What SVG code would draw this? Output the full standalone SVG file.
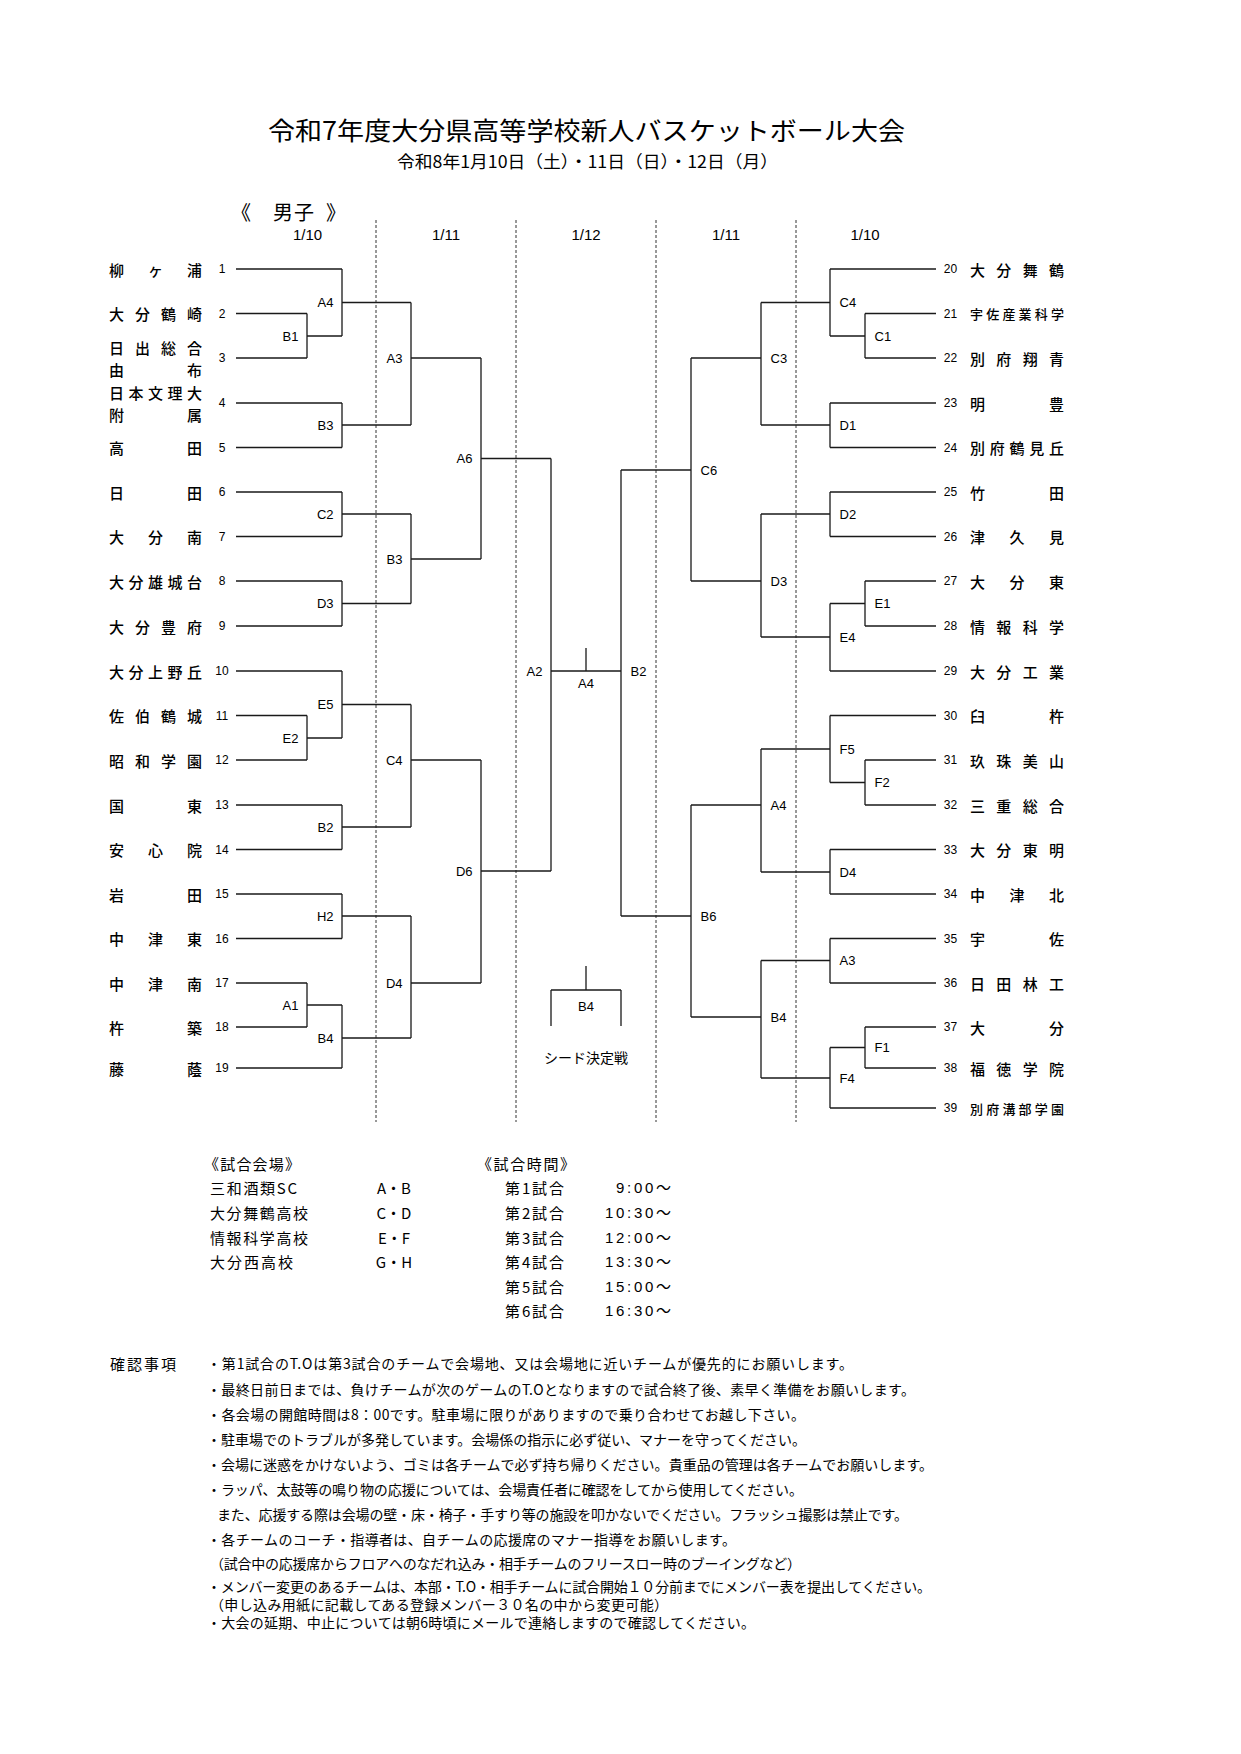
<svg xmlns="http://www.w3.org/2000/svg" width="1241" height="1754" viewBox="0 0 1241 1754">
<style>
.bg{fill:#fff}
.ln{fill:none;stroke:#1a1a1a;stroke-width:1.3}
.dash{fill:none;stroke:#333;stroke-width:1;stroke-dasharray:3 2}
.jp{font-family:'Noto Sans CJK JP','Noto Sans CJK SC',sans-serif;fill:#000;dominant-baseline:central}
.nm{font-size:15px;font-weight:500}
.nm6{font-size:13px;font-weight:500}
.no{font-family:'Liberation Sans',Arial,sans-serif;font-size:12px;text-anchor:middle;dominant-baseline:central;fill:#000}
.lb{font-family:'Liberation Sans',Arial,sans-serif;font-size:13px;dominant-baseline:central;fill:#000}
.le{text-anchor:end}
.mid{text-anchor:middle}
.hd{font-family:'Liberation Sans',Arial,sans-serif;font-size:15px;text-anchor:middle;dominant-baseline:central;fill:#000}
.vn{font-size:15px}
.nt{font-size:14px}
.tm{font-family:'Liberation Sans','Noto Sans CJK JP',sans-serif;font-size:15px;dominant-baseline:central;fill:#000}
</style>
<rect class="bg" x="0" y="0" width="1241" height="1754"/>

<g id="title">
<text class="jp" x="268" y="129" font-size="25" textLength="637" lengthAdjust="spacingAndGlyphs">令和7年度大分県高等学校新人バスケットボール大会</text>
<text class="jp" x="397" y="160" font-size="17" textLength="381" lengthAdjust="spacingAndGlyphs">令和8年1月10日（土）・11日（日）・12日（月）</text>
<text class="jp" x="231 273 294 326" y="211" font-size="20">《男子》</text>
</g>

<g id="headers">
<text class="hd" x="307.5" y="234">1/10</text>
<text class="hd" x="446" y="234">1/11</text>
<text class="hd" x="586" y="234">1/12</text>
<text class="hd" x="726" y="234">1/11</text>
<text class="hd" x="865" y="234">1/10</text>
</g>

<g id="day-dividers">
<path class="dash" d="M376 220V1122M516 220V1122M656 220V1122M796 220V1122"/>
</g>

<g id="connectors">
<path class="ln" d="M236 269H342M236 313.5H307M236 358H307M236 403H342M236 447.5H342M236 492H342M236 536.5H342M236 581H342M236 626H342M236 671H342M236 715.5H307M236 760H307M236 805H342M236 849.5H342M236 894H342M236 938.5H342M236 983H307M236 1027H307M236 1068H342"/>
<path class="ln" d="M307 313.5V358M307 336H342M342 269V336M342 302.5H411M342 403V447.5M342 425H411M411 302.5V425M411 358H481M342 492V536.5M342 514H411M342 581V626M342 603.5H411M411 514V603.5M411 559H481M481 358V559M481 458.5H551"/>
<path class="ln" d="M307 715.5V760M307 738H342M342 671V738M342 704.5H411M342 805V849.5M342 827H411M411 704.5V827M411 760H481M342 894V938.5M342 916H411M307 983V1027M307 1005H342M342 1005V1068M342 1038H411M411 916V1038M411 983H481M481 760V983M481 871H551"/>
<path class="ln" d="M551 458.5V871M551 671H621M586 648V671M621 470V916"/>
<path class="ln" d="M830 269H936M865 313.5H936M865 358H936M830 403H936M830 447.5H936M830 492H936M830 536.5H936M865 581H936M865 626H936M830 671H936M830 715.5H936M865 760H936M865 805H936M830 849.5H936M830 894H936M830 938.5H936M830 983H936M865 1027H936M865 1068H936M830 1108H936"/>
<path class="ln" d="M621 470H691M691 358V581M691 358H761M761 302.5V425M761 302.5H830M830 269V336M830 336H865M865 313.5V358M761 425H830M830 403V447.5M691 581H761M761 514V637M761 514H830M830 492V536.5M761 637H830M830 603.5V671M830 603.5H865M865 581V626"/>
<path class="ln" d="M621 916H691M691 805V1017M691 805H761M761 749V872M761 749H830M830 715.5V782.5M830 782.5H865M865 760V805M761 872H830M830 849.5V894M691 1017H761M761 960.5V1078M761 960.5H830M830 938.5V983M761 1078H830M830 1047.5V1108M830 1047.5H865M865 1027V1068"/>
<path class="ln" d="M586 966V990M551 990H621M551 990V1026M621 990V1026"/>
</g>

<g id="team-1"><text class="no" x="222" y="269">1</text><text class="jp nm" x="109 148 187" y="269">柳ヶ浦</text></g>
<g id="team-2"><text class="no" x="222" y="313.5">2</text><text class="jp nm" x="109 135 161 187" y="313.5">大分鶴崎</text></g>
<g id="team-3"><text class="no" x="222" y="358">3</text><text class="jp nm" x="109 135 161 187" y="347">日出総合</text><text class="jp nm" x="109 187" y="369">由布</text></g>
<g id="team-4"><text class="no" x="222" y="403">4</text><text class="jp nm" x="109 128.5 148 167.5 187" y="392">日本文理大</text><text class="jp nm" x="109 187" y="414">附属</text></g>
<g id="team-5"><text class="no" x="222" y="447.5">5</text><text class="jp nm" x="109 187" y="447.5">高田</text></g>
<g id="team-6"><text class="no" x="222" y="492">6</text><text class="jp nm" x="109 187" y="492">日田</text></g>
<g id="team-7"><text class="no" x="222" y="536.5">7</text><text class="jp nm" x="109 148 187" y="536.5">大分南</text></g>
<g id="team-8"><text class="no" x="222" y="581">8</text><text class="jp nm" x="109 128.5 148 167.5 187" y="581">大分雄城台</text></g>
<g id="team-9"><text class="no" x="222" y="626">9</text><text class="jp nm" x="109 135 161 187" y="626">大分豊府</text></g>
<g id="team-10"><text class="no" x="222" y="671">10</text><text class="jp nm" x="109 128.5 148 167.5 187" y="671">大分上野丘</text></g>
<g id="team-11"><text class="no" x="222" y="715.5">11</text><text class="jp nm" x="109 135 161 187" y="715.5">佐伯鶴城</text></g>
<g id="team-12"><text class="no" x="222" y="760">12</text><text class="jp nm" x="109 135 161 187" y="760">昭和学園</text></g>
<g id="team-13"><text class="no" x="222" y="805">13</text><text class="jp nm" x="109 187" y="805">国東</text></g>
<g id="team-14"><text class="no" x="222" y="849.5">14</text><text class="jp nm" x="109 148 187" y="849.5">安心院</text></g>
<g id="team-15"><text class="no" x="222" y="894">15</text><text class="jp nm" x="109 187" y="894">岩田</text></g>
<g id="team-16"><text class="no" x="222" y="938.5">16</text><text class="jp nm" x="109 148 187" y="938.5">中津東</text></g>
<g id="team-17"><text class="no" x="222" y="983">17</text><text class="jp nm" x="109 148 187" y="983">中津南</text></g>
<g id="team-18"><text class="no" x="222" y="1027">18</text><text class="jp nm" x="109 187" y="1027">杵築</text></g>
<g id="team-19"><text class="no" x="222" y="1068">19</text><text class="jp nm" x="109 187" y="1068">藤蔭</text></g>

<g id="team-20"><text class="no" x="950.5" y="269">20</text><text class="jp nm" x="970 996.3 1022.7 1049" y="269">大分舞鶴</text></g>
<g id="team-21"><text class="no" x="950.5" y="313.5">21</text><text class="jp nm6" x="970 986.2 1002.4 1018.6 1034.8 1051" y="313.5">宇佐産業科学</text></g>
<g id="team-22"><text class="no" x="950.5" y="358">22</text><text class="jp nm" x="970 996.3 1022.7 1049" y="358">別府翔青</text></g>
<g id="team-23"><text class="no" x="950.5" y="403">23</text><text class="jp nm" x="970 1049" y="403">明豊</text></g>
<g id="team-24"><text class="no" x="950.5" y="447.5">24</text><text class="jp nm" x="970 989.8 1009.5 1029.3 1049" y="447.5">別府鶴見丘</text></g>
<g id="team-25"><text class="no" x="950.5" y="492">25</text><text class="jp nm" x="970 1049" y="492">竹田</text></g>
<g id="team-26"><text class="no" x="950.5" y="536.5">26</text><text class="jp nm" x="970 1009.5 1049" y="536.5">津久見</text></g>
<g id="team-27"><text class="no" x="950.5" y="581">27</text><text class="jp nm" x="970 1009.5 1049" y="581">大分東</text></g>
<g id="team-28"><text class="no" x="950.5" y="626">28</text><text class="jp nm" x="970 996.3 1022.7 1049" y="626">情報科学</text></g>
<g id="team-29"><text class="no" x="950.5" y="671">29</text><text class="jp nm" x="970 996.3 1022.7 1049" y="671">大分工業</text></g>
<g id="team-30"><text class="no" x="950.5" y="715.5">30</text><text class="jp nm" x="970 1049" y="715.5">臼杵</text></g>
<g id="team-31"><text class="no" x="950.5" y="760">31</text><text class="jp nm" x="970 996.3 1022.7 1049" y="760">玖珠美山</text></g>
<g id="team-32"><text class="no" x="950.5" y="805">32</text><text class="jp nm" x="970 996.3 1022.7 1049" y="805">三重総合</text></g>
<g id="team-33"><text class="no" x="950.5" y="849.5">33</text><text class="jp nm" x="970 996.3 1022.7 1049" y="849.5">大分東明</text></g>
<g id="team-34"><text class="no" x="950.5" y="894">34</text><text class="jp nm" x="970 1009.5 1049" y="894">中津北</text></g>
<g id="team-35"><text class="no" x="950.5" y="938.5">35</text><text class="jp nm" x="970 1049" y="938.5">宇佐</text></g>
<g id="team-36"><text class="no" x="950.5" y="983">36</text><text class="jp nm" x="970 996.3 1022.7 1049" y="983">日田林工</text></g>
<g id="team-37"><text class="no" x="950.5" y="1027">37</text><text class="jp nm" x="970 1049" y="1027">大分</text></g>
<g id="team-38"><text class="no" x="950.5" y="1068">38</text><text class="jp nm" x="970 996.3 1022.7 1049" y="1068">福徳学院</text></g>
<g id="team-39"><text class="no" x="950.5" y="1108">39</text><text class="jp nm6" x="970 986.2 1002.4 1018.6 1034.8 1051" y="1108">別府溝部学園</text></g>

<g id="match-L-B1"><text class="lb le" x="298.5" y="336">B1</text></g>
<g id="match-L-A4"><text class="lb le" x="333.5" y="302.5">A4</text></g>
<g id="match-L-B3a"><text class="lb le" x="333.5" y="425">B3</text></g>
<g id="match-L-A3"><text class="lb le" x="402.5" y="358">A3</text></g>
<g id="match-L-C2"><text class="lb le" x="333.5" y="514">C2</text></g>
<g id="match-L-D3"><text class="lb le" x="333.5" y="603.5">D3</text></g>
<g id="match-L-B3b"><text class="lb le" x="402.5" y="559">B3</text></g>
<g id="match-L-A6"><text class="lb le" x="472.5" y="458.5">A6</text></g>
<g id="match-L-E5"><text class="lb le" x="333.5" y="704.5">E5</text></g>
<g id="match-L-E2"><text class="lb le" x="298.5" y="738">E2</text></g>
<g id="match-L-B2"><text class="lb le" x="333.5" y="827">B2</text></g>
<g id="match-L-C4"><text class="lb le" x="402.5" y="760">C4</text></g>
<g id="match-L-H2"><text class="lb le" x="333.5" y="916">H2</text></g>
<g id="match-L-A1"><text class="lb le" x="298.5" y="1005">A1</text></g>
<g id="match-L-B4"><text class="lb le" x="333.5" y="1038">B4</text></g>
<g id="match-L-D4"><text class="lb le" x="402.5" y="983">D4</text></g>
<g id="match-L-D6"><text class="lb le" x="472.5" y="871">D6</text></g>
<g id="match-A2"><text class="lb le" x="542.5" y="671">A2</text></g>
<g id="match-final-A4"><text class="lb mid" x="586" y="683">A4</text></g>
<g id="match-R-B2"><text class="lb" x="630.5" y="671">B2</text></g>
<g id="match-R-C6"><text class="lb" x="700.5" y="470">C6</text></g>
<g id="match-R-C3"><text class="lb" x="770.5" y="358">C3</text></g>
<g id="match-R-C4"><text class="lb" x="839.5" y="302.5">C4</text></g>
<g id="match-R-C1"><text class="lb" x="874.5" y="336">C1</text></g>
<g id="match-R-D1"><text class="lb" x="839.5" y="425">D1</text></g>
<g id="match-R-D3"><text class="lb" x="770.5" y="581">D3</text></g>
<g id="match-R-D2"><text class="lb" x="839.5" y="514">D2</text></g>
<g id="match-R-E4"><text class="lb" x="839.5" y="637">E4</text></g>
<g id="match-R-E1"><text class="lb" x="874.5" y="603.5">E1</text></g>
<g id="match-R-B6"><text class="lb" x="700.5" y="916">B6</text></g>
<g id="match-R-A4"><text class="lb" x="770.5" y="805">A4</text></g>
<g id="match-R-F5"><text class="lb" x="839.5" y="749">F5</text></g>
<g id="match-R-F2"><text class="lb" x="874.5" y="782.5">F2</text></g>
<g id="match-R-D4"><text class="lb" x="839.5" y="872">D4</text></g>
<g id="match-R-B4"><text class="lb" x="770.5" y="1017">B4</text></g>
<g id="match-R-A3"><text class="lb" x="839.5" y="960.5">A3</text></g>
<g id="match-R-F4"><text class="lb" x="839.5" y="1078">F4</text></g>
<g id="match-R-F1"><text class="lb" x="874.5" y="1047.5">F1</text></g>
<g id="match-seed-B4"><text class="lb mid" x="586" y="1006">B4</text><text class="jp mid" x="586" y="1057" font-size="14">シード決定戦</text></g>

<g id="venues">
<text class="jp vn" x="204" y="1163" textLength="96" lengthAdjust="spacing">《試合会場》</text>
<text class="jp vn" x="210" y="1187" textLength="87" lengthAdjust="spacing">三和酒類SC</text>
<text class="jp vn" x="210" y="1212" textLength="98" lengthAdjust="spacing">大分舞鶴高校</text>
<text class="jp vn" x="210" y="1237" textLength="98" lengthAdjust="spacing">情報科学高校</text>
<text class="jp vn" x="210" y="1261" textLength="83" lengthAdjust="spacing">大分西高校</text>
<text class="jp vn mid" x="394" y="1187">A・B</text>
<text class="jp vn mid" x="394" y="1212">C・D</text>
<text class="jp vn mid" x="394" y="1237">E・F</text>
<text class="jp vn mid" x="394" y="1261">G・H</text>
</g>

<g id="times">
<text class="jp vn" x="477" y="1163" textLength="98" lengthAdjust="spacing">《試合時間》</text>
<text class="jp vn" x="505" y="1187" textLength="59" lengthAdjust="spacing">第1試合</text>
<text class="jp vn" x="505" y="1212" textLength="59" lengthAdjust="spacing">第2試合</text>
<text class="jp vn" x="505" y="1237" textLength="59" lengthAdjust="spacing">第3試合</text>
<text class="jp vn" x="505" y="1261" textLength="59" lengthAdjust="spacing">第4試合</text>
<text class="jp vn" x="505" y="1286" textLength="59" lengthAdjust="spacing">第5試合</text>
<text class="jp vn" x="505" y="1310" textLength="59" lengthAdjust="spacing">第6試合</text>
<text class="tm" x="616" y="1187" textLength="55" lengthAdjust="spacing">9:00～</text>
<text class="tm" x="605" y="1212" textLength="66" lengthAdjust="spacing">10:30～</text>
<text class="tm" x="605" y="1237" textLength="66" lengthAdjust="spacing">12:00～</text>
<text class="tm" x="605" y="1261" textLength="66" lengthAdjust="spacing">13:30～</text>
<text class="tm" x="605" y="1286" textLength="66" lengthAdjust="spacing">15:00～</text>
<text class="tm" x="605" y="1310" textLength="66" lengthAdjust="spacing">16:30～</text>
</g>

<g id="notes">
<text class="jp vn" x="110" y="1363" textLength="66" lengthAdjust="spacing">確認事項</text>
<text class="jp nt" x="207" y="1363" textLength="646" lengthAdjust="spacing">・第1試合のT.Oは第3試合のチームで会場地、又は会場地に近いチームが優先的にお願いします。</text>
<text class="jp nt" x="207" y="1389" textLength="708" lengthAdjust="spacing">・最終日前日までは、負けチームが次のゲームのT.Oとなりますので試合終了後、素早く準備をお願いします。</text>
<text class="jp nt" x="207" y="1414" textLength="598" lengthAdjust="spacing">・各会場の開館時間は8：00です。駐車場に限りがありますので乗り合わせてお越し下さい。</text>
<text class="jp nt" x="207" y="1439" textLength="599" lengthAdjust="spacing">・駐車場でのトラブルが多発しています。会場係の指示に必ず従い、マナーを守ってください。</text>
<text class="jp nt" x="207" y="1464" textLength="726" lengthAdjust="spacing">・会場に迷惑をかけないよう、ゴミは各チームで必ず持ち帰りください。貴重品の管理は各チームでお願いします。</text>
<text class="jp nt" x="207" y="1489" textLength="596" lengthAdjust="spacing">・ラッパ、太鼓等の鳴り物の応援については、会場責任者に確認をしてから使用してください。</text>
<text class="jp nt" x="217" y="1514" textLength="691" lengthAdjust="spacing">また、応援する際は会場の壁・床・椅子・手すり等の施設を叩かないでください。フラッシュ撮影は禁止です。</text>
<text class="jp nt" x="207" y="1539" textLength="529" lengthAdjust="spacing">・各チームのコーチ・指導者は、自チームの応援席のマナー指導をお願いします。</text>
<text class="jp nt" x="210" y="1563" textLength="591" lengthAdjust="spacing">（試合中の応援席からフロアへのなだれ込み・相手チームのフリースロー時のブーイングなど）</text>
<text class="jp nt" x="207" y="1586" textLength="724" lengthAdjust="spacing">・メンバー変更のあるチームは、本部・T.O・相手チームに試合開始１０分前までにメンバー表を提出してください。</text>
<text class="jp nt" x="210" y="1604" textLength="458" lengthAdjust="spacing">（申し込み用紙に記載してある登録メンバー３０名の中から変更可能）</text>
<text class="jp nt" x="207" y="1622" textLength="548" lengthAdjust="spacing">・大会の延期、中止については朝6時頃にメールで連絡しますので確認してください。</text>
</g>
</svg>
